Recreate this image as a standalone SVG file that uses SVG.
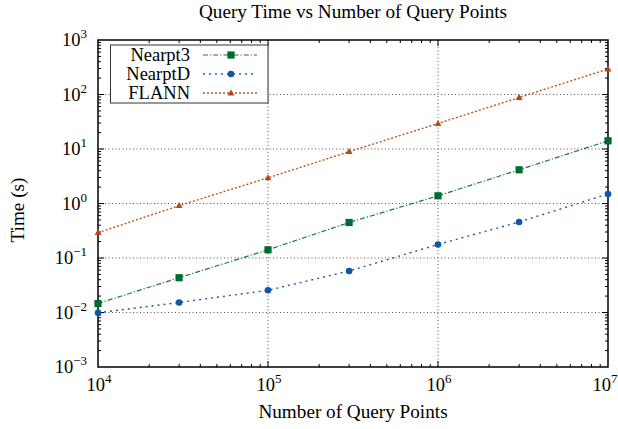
<svg xmlns="http://www.w3.org/2000/svg" width="618" height="429" viewBox="0 0 618 429">
<style>
text{font-family:"Liberation Serif","Times New Roman",serif;fill:#000;font-size:18.5px}
.big{font-size:19.2px}
.sup{font-size:13px}
.grid{fill:none;stroke:#444;stroke-width:0.9;stroke-dasharray:1 2.5}
.tick{fill:none;stroke:#000;stroke-width:1}
.frame{fill:none;stroke:#000;stroke-width:1.5}
.n3{fill:none;stroke:#1b7a3a;stroke-width:1.2;stroke-dasharray:5 2 1.2 2}
.nd{fill:none;stroke:#1a5ca8;stroke-width:1.4;stroke-dasharray:2 4}
.fl{fill:none;stroke:#c0541f;stroke-width:1.4;stroke-dasharray:2 2}
.m3{fill:#006b2e}
.md{fill:#0f57a5}
.mf{fill:#b8441a}
</style>
<defs>
<rect id="sq" x="-3.6" y="-3.6" width="7.2" height="7.2"/>
<circle id="ci" r="3.3"/>
<path id="tr" d="M0-3.6L3.4 2.4H-3.4Z"/>
</defs>
<rect width="618" height="429" fill="#fff"/>
<text id="title" class="big" x="353" y="18" text-anchor="middle">Query Time vs Number of Query Points</text>
<g id="grid">
<path class="grid" d="M268 40V367M438 40V367M98 94.5H608M98 149H608M98 203.5H608M98 258H608M98 312.5H608"/>
</g>
<g id="ticks">
<path class="tick" d="M268 367v-6M438 367v-6M268 40v6M438 40v6M98 94.5h6M98 149h6M98 203.5h6M98 258h6M98 312.5h6M608 94.5h-6M608 149h-6M608 203.5h-6M608 258h-6M608 312.5h-6"/>
<path class="tick" d="M149.18 367v-3M179.11 367v-3M200.35 367v-3M216.82 367v-3M230.29 367v-3M241.67 367v-3M251.53 367v-3M260.22 367v-3M319.18 367v-3M349.11 367v-3M370.35 367v-3M386.82 367v-3M400.29 367v-3M411.67 367v-3M421.53 367v-3M430.22 367v-3M489.18 367v-3M519.11 367v-3M540.35 367v-3M556.82 367v-3M570.29 367v-3M581.67 367v-3M591.53 367v-3M600.22 367v-3M149.18 40v3M179.11 40v3M200.35 40v3M216.82 40v3M230.29 40v3M241.67 40v3M251.53 40v3M260.22 40v3M319.18 40v3M349.11 40v3M370.35 40v3M386.82 40v3M400.29 40v3M411.67 40v3M421.53 40v3M430.22 40v3M489.18 40v3M519.11 40v3M540.35 40v3M556.82 40v3M570.29 40v3M581.67 40v3M591.53 40v3M600.22 40v3"/>
<path class="tick" d="M98 78.09h3M98 68.5h3M98 61.69h3M98 56.41h3M98 52.09h3M98 48.44h3M98 45.28h3M98 42.51h3M98 132.59h3M98 123h3M98 116.19h3M98 110.91h3M98 106.59h3M98 102.94h3M98 99.78h3M98 97.01h3M98 187.09h3M98 177.5h3M98 170.69h3M98 165.41h3M98 161.09h3M98 157.44h3M98 154.28h3M98 151.51h3M98 241.59h3M98 232h3M98 225.19h3M98 219.91h3M98 215.59h3M98 211.94h3M98 208.78h3M98 206.01h3M98 296.09h3M98 286.5h3M98 279.69h3M98 274.41h3M98 270.09h3M98 266.44h3M98 263.28h3M98 260.51h3M98 350.59h3M98 341h3M98 334.19h3M98 328.91h3M98 324.59h3M98 320.94h3M98 317.78h3M98 315.01h3"/>
<path class="tick" d="M608 78.09h-3M608 68.5h-3M608 61.69h-3M608 56.41h-3M608 52.09h-3M608 48.44h-3M608 45.28h-3M608 42.51h-3M608 132.59h-3M608 123h-3M608 116.19h-3M608 110.91h-3M608 106.59h-3M608 102.94h-3M608 99.78h-3M608 97.01h-3M608 187.09h-3M608 177.5h-3M608 170.69h-3M608 165.41h-3M608 161.09h-3M608 157.44h-3M608 154.28h-3M608 151.51h-3M608 241.59h-3M608 232h-3M608 225.19h-3M608 219.91h-3M608 215.59h-3M608 211.94h-3M608 208.78h-3M608 206.01h-3M608 296.09h-3M608 286.5h-3M608 279.69h-3M608 274.41h-3M608 270.09h-3M608 266.44h-3M608 263.28h-3M608 260.51h-3M608 350.59h-3M608 341h-3M608 334.19h-3M608 328.91h-3M608 324.59h-3M608 320.94h-3M608 317.78h-3M608 315.01h-3"/>
</g>
<rect class="frame" x="98" y="40" width="510" height="327"/>
<g id="ytick-labels" text-anchor="end">
<text x="87" y="46">10<tspan class="sup" dy="-8">3</tspan></text>
<text x="87" y="100.5">10<tspan class="sup" dy="-8">2</tspan></text>
<text x="87" y="155">10<tspan class="sup" dy="-8">1</tspan></text>
<text x="87" y="209.5">10<tspan class="sup" dy="-8">0</tspan></text>
<text x="87" y="264">10<tspan class="sup" dy="-8">−1</tspan></text>
<text x="87" y="318.5">10<tspan class="sup" dy="-8">−2</tspan></text>
<text x="87" y="373">10<tspan class="sup" dy="-8">−3</tspan></text>
</g>
<g id="xtick-labels" text-anchor="middle">
<text x="99" y="391">10<tspan class="sup" dy="-8">4</tspan></text>
<text x="269" y="391">10<tspan class="sup" dy="-8">5</tspan></text>
<text x="439" y="391">10<tspan class="sup" dy="-8">6</tspan></text>
<text x="617.5" y="391" text-anchor="end">10<tspan class="sup" dy="-8">7</tspan></text>
</g>
<text id="xlabel" class="big" x="353" y="418" text-anchor="middle">Number of Query Points</text>
<text id="ylabel" class="big" transform="translate(24 210) rotate(-90)" text-anchor="middle">Time (s)</text>
<g id="connectors">
<polyline id="line-nearpt3" class="n3" points="98,303.5 179.1,277.7 268,249.8 349.1,222.5 438,195.8 519.1,169.8 608,140.8"/>
<polyline id="line-nearptd" class="nd" points="98,312.8 179.1,302.5 268,290.3 349.1,271 438,244.5 519.1,222 608,194"/>
<polyline id="line-flann" class="fl" points="98,232.7 179.1,205.7 268,177.8 349.1,151.7 438,123.5 519.1,97.5 608,69"/>
</g>
<g id="markers-nearpt3" class="m3">
<use href="#sq" x="98" y="303.5"/><use href="#sq" x="179.1" y="277.7"/><use href="#sq" x="268" y="249.8"/><use href="#sq" x="349.1" y="222.5"/><use href="#sq" x="438" y="195.8"/><use href="#sq" x="519.1" y="169.8"/><use href="#sq" x="608" y="140.8"/>
</g>
<g id="markers-nearptd" class="md">
<use href="#ci" x="98" y="312.8"/><use href="#ci" x="179.1" y="302.5"/><use href="#ci" x="268" y="290.3"/><use href="#ci" x="349.1" y="271"/><use href="#ci" x="438" y="244.5"/><use href="#ci" x="519.1" y="222"/><use href="#ci" x="608" y="194"/>
</g>
<g id="markers-flann" class="mf">
<use href="#tr" x="98" y="232.7"/><use href="#tr" x="179.1" y="205.7"/><use href="#tr" x="268" y="177.8"/><use href="#tr" x="349.1" y="151.7"/><use href="#tr" x="438" y="123.5"/><use href="#tr" x="519.1" y="97.5"/><use href="#tr" x="608" y="69"/>
</g>
<g id="legend">
<rect x="110.5" y="45" width="157.5" height="58" fill="#fff" stroke="#333" stroke-width="1"/>
<text x="190" y="61" text-anchor="end">Nearpt3</text>
<text x="190" y="80" text-anchor="end">NearptD</text>
<text x="190" y="99" text-anchor="end">FLANN</text>
<path class="n3" d="M203 55H257"/>
<use href="#sq" class="m3" x="231" y="55"/>
<path class="nd" d="M203 74H257"/>
<use href="#ci" class="md" x="231" y="74"/>
<path class="fl" d="M203 93H257"/>
<use href="#tr" class="mf" x="231" y="93"/>
</g>
</svg>
